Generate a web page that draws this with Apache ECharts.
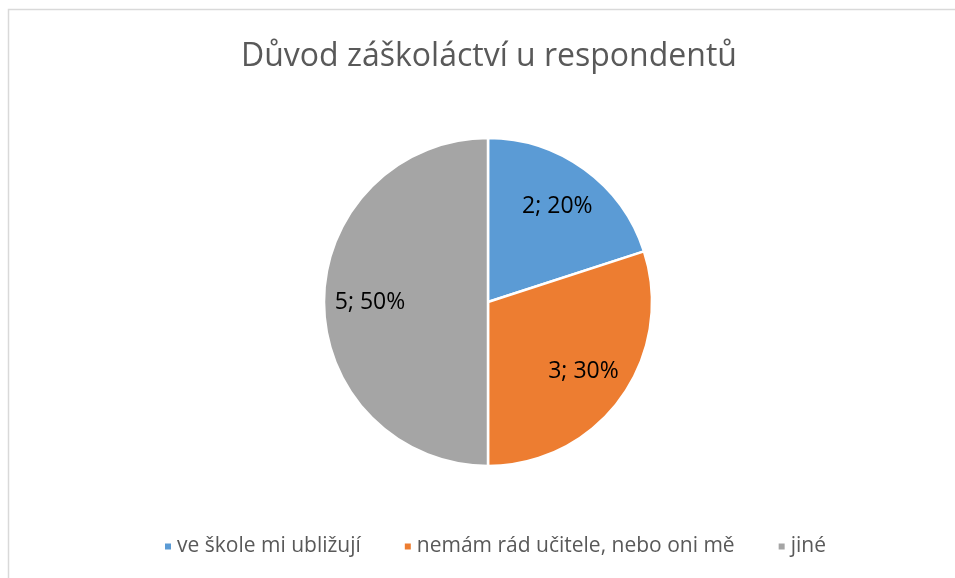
<!DOCTYPE html>
<html>
<head>
<meta charset="utf-8">
<script src="https://cdn.jsdelivr.net/npm/echarts@6/dist/echarts.min.js"></script>
<style>html,body{margin:0;padding:0;background:#fff;}#c{width:955px;height:578px;}</style>
</head>
<body>
<div id="c"></div>
<script>
const titleText = 'Důvod záškoláctví u respondentů';
const categories = ['ve škole mi ubližují', 'nemám rád učitele, nebo oni mě', 'jiné'];
const values = [2, 3, 5];
const colors = ['#5B9BD5', '#ED7D31', '#A5A5A5'];

const chart = echarts.init(document.getElementById('c'), null, {renderer: 'canvas'});
const data = categories.map((n, i) => ({name: n, value: values[i], itemStyle: {color: colors[i]}}));
const total = values.reduce((a, b) => a + b, 0);
chart.setOption({
  animation: false,
  backgroundColor: '#fff',
  graphic: [{
    type: 'rect', shape: {x: 8.5, y: 9.5, width: 1000, height: 700},
    style: {fill: 'none', stroke: '#D9D9D9', lineWidth: 1.5}, silent: true
  }],
  title: {
    text: titleText, left: 236, top: 36,
    textStyle: {fontFamily: 'Open Sans', fontSize: 32, fontWeight: 'normal', color: '#595959'}
  },
  legend: {
    data: categories, bottom: 16, left: 158, itemWidth: 8, itemHeight: 8, itemGap: 42,
    icon: 'rect',
    textStyle: {fontFamily: 'Open Sans', fontSize: 21, color: '#595959'}
  },
  series: [{
    type: 'pie', center: [488, 302], radius: [0, 164], startAngle: 90, clockwise: true,
    label: {show: false}, labelLine: {show: false},
    itemStyle: {borderColor: '#fff', borderWidth: 2.5},
    data: data, silent: true
  }, {
    type: 'pie', center: [488, 302], radius: [66, 164], startAngle: 90, clockwise: true,
    itemStyle: {color: 'rgba(0,0,0,0)'}, silent: true,
    label: {
      show: true, position: 'inside', color: '#000', fontFamily: 'Open Sans', fontSize: 23,
      formatter: p => p.value + '; ' + Math.round(p.value / total * 100) + '%'
    },
    labelLine: {show: false},
    data: categories.map((n, i) => ({name: n + ' ', value: values[i]})),
    legendHoverLink: false
  }]
});
</script>
</body>
</html>
